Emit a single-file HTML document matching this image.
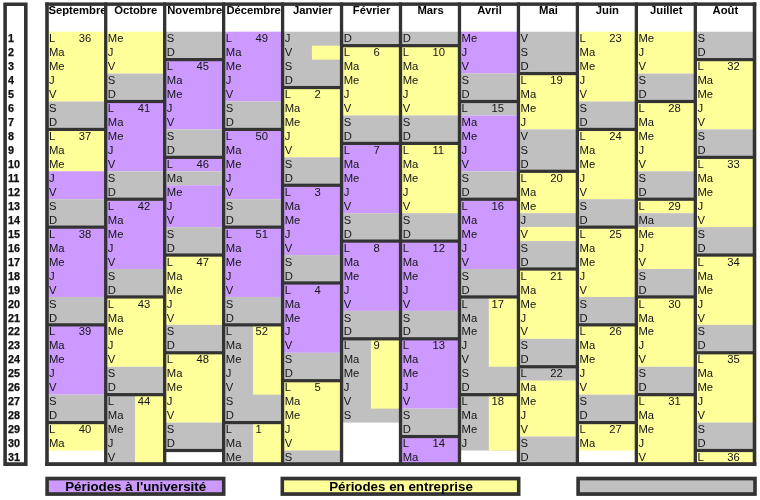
<!DOCTYPE html>
<html lang="fr"><head><meta charset="utf-8"><title>Calendrier</title>
<style>
html,body{margin:0;padding:0;background:#fff;}
body{width:760px;height:500px;overflow:hidden;}
svg{display:block}
text{font-family:"Liberation Sans",Arial,sans-serif;font-size:11.25px;fill:#141414;}
text.b{font-weight:bold;fill:#000}
text.n{font-weight:bold;font-size:10.8px;stroke:#000;stroke-width:.25px}
text.lg{font-weight:bold;font-size:13.33px;fill:#000}
</style></head><body>
<svg width="760" height="500" viewBox="0 0 760 500">
<rect width="760" height="500" fill="#fff"/>
<g shape-rendering="auto">
<rect x="47" y="31.7" width="58.96" height="69.8" fill="#FFFF99"/>
<rect x="47" y="101.5" width="58.96" height="27.92" fill="#C0C0C0"/>
<rect x="47" y="129.42" width="58.96" height="41.88" fill="#FFFF99"/>
<rect x="47" y="171.3" width="58.96" height="27.92" fill="#CC99FF"/>
<rect x="47" y="199.22" width="58.96" height="27.92" fill="#C0C0C0"/>
<rect x="47" y="227.14" width="58.96" height="69.8" fill="#CC99FF"/>
<rect x="47" y="296.94" width="58.96" height="27.92" fill="#C0C0C0"/>
<rect x="47" y="324.86" width="58.96" height="69.8" fill="#CC99FF"/>
<rect x="47" y="394.66" width="58.96" height="27.92" fill="#C0C0C0"/>
<rect x="47" y="422.58" width="58.96" height="27.92" fill="#FFFF99"/>
<rect x="105.96" y="31.7" width="58.96" height="41.88" fill="#FFFF99"/>
<rect x="105.96" y="73.58" width="58.96" height="27.92" fill="#C0C0C0"/>
<rect x="105.96" y="101.5" width="58.96" height="69.8" fill="#CC99FF"/>
<rect x="105.96" y="171.3" width="58.96" height="27.92" fill="#C0C0C0"/>
<rect x="105.96" y="199.22" width="58.96" height="69.8" fill="#CC99FF"/>
<rect x="105.96" y="269.02" width="58.96" height="27.92" fill="#C0C0C0"/>
<rect x="105.96" y="296.94" width="58.96" height="69.8" fill="#FFFF99"/>
<rect x="105.96" y="366.74" width="58.96" height="97.72" fill="#C0C0C0"/>
<rect x="135.04" y="394.66" width="29.88" height="69.8" fill="#FFFF99"/>
<rect x="164.92" y="31.7" width="58.96" height="27.92" fill="#C0C0C0"/>
<rect x="164.92" y="59.62" width="58.96" height="69.8" fill="#CC99FF"/>
<rect x="164.92" y="129.42" width="58.96" height="27.92" fill="#C0C0C0"/>
<rect x="164.92" y="157.34" width="58.96" height="13.96" fill="#CC99FF"/>
<rect x="164.92" y="171.3" width="58.96" height="13.96" fill="#C0C0C0"/>
<rect x="164.92" y="185.26" width="58.96" height="41.88" fill="#CC99FF"/>
<rect x="164.92" y="227.14" width="58.96" height="27.92" fill="#C0C0C0"/>
<rect x="164.92" y="255.06" width="58.96" height="69.8" fill="#FFFF99"/>
<rect x="164.92" y="324.86" width="58.96" height="27.92" fill="#C0C0C0"/>
<rect x="164.92" y="352.78" width="58.96" height="69.8" fill="#FFFF99"/>
<rect x="164.92" y="422.58" width="58.96" height="27.92" fill="#C0C0C0"/>
<rect x="223.88" y="31.7" width="58.96" height="69.8" fill="#CC99FF"/>
<rect x="223.88" y="101.5" width="58.96" height="27.92" fill="#C0C0C0"/>
<rect x="223.88" y="129.42" width="58.96" height="69.8" fill="#CC99FF"/>
<rect x="223.88" y="199.22" width="58.96" height="27.92" fill="#C0C0C0"/>
<rect x="223.88" y="227.14" width="58.96" height="69.8" fill="#CC99FF"/>
<rect x="223.88" y="296.94" width="58.96" height="167.52" fill="#C0C0C0"/>
<rect x="252.96" y="324.86" width="29.88" height="69.8" fill="#FFFF99"/>
<rect x="252.96" y="422.58" width="29.88" height="41.88" fill="#FFFF99"/>
<rect x="282.84" y="31.7" width="58.96" height="55.84" fill="#C0C0C0"/>
<rect x="282.84" y="87.54" width="58.96" height="69.8" fill="#FFFF99"/>
<rect x="282.84" y="157.34" width="58.96" height="27.92" fill="#C0C0C0"/>
<rect x="282.84" y="185.26" width="58.96" height="69.8" fill="#CC99FF"/>
<rect x="282.84" y="255.06" width="58.96" height="27.92" fill="#C0C0C0"/>
<rect x="282.84" y="282.98" width="58.96" height="69.8" fill="#CC99FF"/>
<rect x="282.84" y="352.78" width="58.96" height="27.92" fill="#C0C0C0"/>
<rect x="282.84" y="380.7" width="58.96" height="69.8" fill="#FFFF99"/>
<rect x="282.84" y="450.5" width="58.96" height="13.96" fill="#C0C0C0"/>
<rect x="311.92" y="45.66" width="29.88" height="13.96" fill="#FFFF99"/>
<rect x="341.8" y="31.7" width="58.96" height="13.96" fill="#C0C0C0"/>
<rect x="341.8" y="45.66" width="58.96" height="69.8" fill="#FFFF99"/>
<rect x="341.8" y="115.46" width="58.96" height="27.92" fill="#C0C0C0"/>
<rect x="341.8" y="143.38" width="58.96" height="69.8" fill="#CC99FF"/>
<rect x="341.8" y="213.18" width="58.96" height="27.92" fill="#C0C0C0"/>
<rect x="341.8" y="241.1" width="58.96" height="69.8" fill="#CC99FF"/>
<rect x="341.8" y="310.9" width="58.96" height="111.68" fill="#C0C0C0"/>
<rect x="370.88" y="338.82" width="29.88" height="69.8" fill="#FFFF99"/>
<rect x="400.76" y="31.7" width="58.96" height="13.96" fill="#C0C0C0"/>
<rect x="400.76" y="45.66" width="58.96" height="69.8" fill="#FFFF99"/>
<rect x="400.76" y="115.46" width="58.96" height="27.92" fill="#C0C0C0"/>
<rect x="400.76" y="143.38" width="58.96" height="69.8" fill="#FFFF99"/>
<rect x="400.76" y="213.18" width="58.96" height="27.92" fill="#C0C0C0"/>
<rect x="400.76" y="241.1" width="58.96" height="69.8" fill="#CC99FF"/>
<rect x="400.76" y="310.9" width="58.96" height="27.92" fill="#C0C0C0"/>
<rect x="400.76" y="338.82" width="58.96" height="69.8" fill="#CC99FF"/>
<rect x="400.76" y="408.62" width="58.96" height="27.92" fill="#C0C0C0"/>
<rect x="400.76" y="436.54" width="58.96" height="27.92" fill="#CC99FF"/>
<rect x="459.72" y="31.7" width="58.96" height="41.88" fill="#CC99FF"/>
<rect x="459.72" y="73.58" width="58.96" height="41.88" fill="#C0C0C0"/>
<rect x="459.72" y="115.46" width="58.96" height="55.84" fill="#CC99FF"/>
<rect x="459.72" y="171.3" width="58.96" height="27.92" fill="#C0C0C0"/>
<rect x="459.72" y="199.22" width="58.96" height="69.8" fill="#CC99FF"/>
<rect x="459.72" y="269.02" width="58.96" height="181.48" fill="#C0C0C0"/>
<rect x="488.8" y="296.94" width="29.88" height="69.8" fill="#FFFF99"/>
<rect x="488.8" y="394.66" width="29.88" height="55.84" fill="#FFFF99"/>
<rect x="518.68" y="31.7" width="58.96" height="41.88" fill="#C0C0C0"/>
<rect x="518.68" y="73.58" width="58.96" height="55.84" fill="#FFFF99"/>
<rect x="518.68" y="129.42" width="58.96" height="41.88" fill="#C0C0C0"/>
<rect x="518.68" y="171.3" width="58.96" height="41.88" fill="#FFFF99"/>
<rect x="518.68" y="213.18" width="58.96" height="13.96" fill="#C0C0C0"/>
<rect x="518.68" y="227.14" width="58.96" height="13.96" fill="#FFFF99"/>
<rect x="518.68" y="241.1" width="58.96" height="27.92" fill="#C0C0C0"/>
<rect x="518.68" y="269.02" width="58.96" height="69.8" fill="#FFFF99"/>
<rect x="518.68" y="338.82" width="58.96" height="41.88" fill="#C0C0C0"/>
<rect x="518.68" y="380.7" width="58.96" height="55.84" fill="#FFFF99"/>
<rect x="518.68" y="436.54" width="58.96" height="27.92" fill="#C0C0C0"/>
<rect x="577.64" y="31.7" width="58.96" height="69.8" fill="#FFFF99"/>
<rect x="577.64" y="101.5" width="58.96" height="27.92" fill="#C0C0C0"/>
<rect x="577.64" y="129.42" width="58.96" height="69.8" fill="#FFFF99"/>
<rect x="577.64" y="199.22" width="58.96" height="27.92" fill="#C0C0C0"/>
<rect x="577.64" y="227.14" width="58.96" height="69.8" fill="#FFFF99"/>
<rect x="577.64" y="296.94" width="58.96" height="27.92" fill="#C0C0C0"/>
<rect x="577.64" y="324.86" width="58.96" height="69.8" fill="#FFFF99"/>
<rect x="577.64" y="394.66" width="58.96" height="27.92" fill="#C0C0C0"/>
<rect x="577.64" y="422.58" width="58.96" height="27.92" fill="#FFFF99"/>
<rect x="636.6" y="31.7" width="58.96" height="41.88" fill="#FFFF99"/>
<rect x="636.6" y="73.58" width="58.96" height="27.92" fill="#C0C0C0"/>
<rect x="636.6" y="101.5" width="58.96" height="69.8" fill="#FFFF99"/>
<rect x="636.6" y="171.3" width="58.96" height="27.92" fill="#C0C0C0"/>
<rect x="636.6" y="199.22" width="58.96" height="13.96" fill="#FFFF99"/>
<rect x="636.6" y="213.18" width="58.96" height="13.96" fill="#C0C0C0"/>
<rect x="636.6" y="227.14" width="58.96" height="41.88" fill="#FFFF99"/>
<rect x="636.6" y="269.02" width="58.96" height="27.92" fill="#C0C0C0"/>
<rect x="636.6" y="296.94" width="58.96" height="69.8" fill="#FFFF99"/>
<rect x="636.6" y="366.74" width="58.96" height="27.92" fill="#C0C0C0"/>
<rect x="636.6" y="394.66" width="58.96" height="69.8" fill="#FFFF99"/>
<rect x="695.56" y="31.7" width="58.96" height="27.92" fill="#C0C0C0"/>
<rect x="695.56" y="59.62" width="58.96" height="69.8" fill="#FFFF99"/>
<rect x="695.56" y="129.42" width="58.96" height="27.92" fill="#C0C0C0"/>
<rect x="695.56" y="157.34" width="58.96" height="69.8" fill="#FFFF99"/>
<rect x="695.56" y="227.14" width="58.96" height="27.92" fill="#C0C0C0"/>
<rect x="695.56" y="255.06" width="58.96" height="69.8" fill="#FFFF99"/>
<rect x="695.56" y="324.86" width="58.96" height="27.92" fill="#C0C0C0"/>
<rect x="695.56" y="352.78" width="58.96" height="69.8" fill="#FFFF99"/>
<rect x="695.56" y="422.58" width="58.96" height="27.92" fill="#C0C0C0"/>
<rect x="695.56" y="450.5" width="58.96" height="13.96" fill="#FFFF99"/>
<rect x="47" y="127.82" width="58.96" height="3.2" fill="#333333"/>
<rect x="47" y="225.54" width="58.96" height="3.2" fill="#333333"/>
<rect x="47" y="323.26" width="58.96" height="3.2" fill="#333333"/>
<rect x="47" y="420.98" width="58.96" height="3.2" fill="#333333"/>
<rect x="105.96" y="99.9" width="58.96" height="3.2" fill="#333333"/>
<rect x="105.96" y="197.62" width="58.96" height="3.2" fill="#333333"/>
<rect x="105.96" y="295.34" width="58.96" height="3.2" fill="#333333"/>
<rect x="105.96" y="393.06" width="58.96" height="3.2" fill="#333333"/>
<rect x="164.92" y="58.02" width="58.96" height="3.2" fill="#333333"/>
<rect x="164.92" y="155.74" width="58.96" height="3.2" fill="#333333"/>
<rect x="164.92" y="253.46" width="58.96" height="3.2" fill="#333333"/>
<rect x="164.92" y="351.18" width="58.96" height="3.2" fill="#333333"/>
<rect x="164.92" y="448.9" width="58.96" height="3.2" fill="#333333"/>
<rect x="223.88" y="127.82" width="58.96" height="3.2" fill="#333333"/>
<rect x="223.88" y="225.54" width="58.96" height="3.2" fill="#333333"/>
<rect x="223.88" y="323.26" width="58.96" height="3.2" fill="#333333"/>
<rect x="223.88" y="420.98" width="58.96" height="3.2" fill="#333333"/>
<rect x="282.84" y="85.94" width="58.96" height="3.2" fill="#333333"/>
<rect x="282.84" y="183.66" width="58.96" height="3.2" fill="#333333"/>
<rect x="282.84" y="281.38" width="58.96" height="3.2" fill="#333333"/>
<rect x="282.84" y="379.1" width="58.96" height="3.2" fill="#333333"/>
<rect x="341.8" y="44.06" width="58.96" height="3.2" fill="#333333"/>
<rect x="341.8" y="141.78" width="58.96" height="3.2" fill="#333333"/>
<rect x="341.8" y="239.5" width="58.96" height="3.2" fill="#333333"/>
<rect x="341.8" y="337.22" width="58.96" height="3.2" fill="#333333"/>
<rect x="400.76" y="44.06" width="58.96" height="3.2" fill="#333333"/>
<rect x="400.76" y="141.78" width="58.96" height="3.2" fill="#333333"/>
<rect x="400.76" y="239.5" width="58.96" height="3.2" fill="#333333"/>
<rect x="400.76" y="337.22" width="58.96" height="3.2" fill="#333333"/>
<rect x="400.76" y="434.94" width="58.96" height="3.2" fill="#333333"/>
<rect x="459.72" y="99.9" width="58.96" height="3.2" fill="#333333"/>
<rect x="459.72" y="197.62" width="58.96" height="3.2" fill="#333333"/>
<rect x="459.72" y="295.34" width="58.96" height="3.2" fill="#333333"/>
<rect x="459.72" y="393.06" width="58.96" height="3.2" fill="#333333"/>
<rect x="518.68" y="71.98" width="58.96" height="3.2" fill="#333333"/>
<rect x="518.68" y="169.7" width="58.96" height="3.2" fill="#333333"/>
<rect x="518.68" y="267.42" width="58.96" height="3.2" fill="#333333"/>
<rect x="518.68" y="365.14" width="58.96" height="3.2" fill="#333333"/>
<rect x="577.64" y="127.82" width="58.96" height="3.2" fill="#333333"/>
<rect x="577.64" y="225.54" width="58.96" height="3.2" fill="#333333"/>
<rect x="577.64" y="323.26" width="58.96" height="3.2" fill="#333333"/>
<rect x="577.64" y="420.98" width="58.96" height="3.2" fill="#333333"/>
<rect x="636.6" y="99.9" width="58.96" height="3.2" fill="#333333"/>
<rect x="636.6" y="197.62" width="58.96" height="3.2" fill="#333333"/>
<rect x="636.6" y="295.34" width="58.96" height="3.2" fill="#333333"/>
<rect x="636.6" y="393.06" width="58.96" height="3.2" fill="#333333"/>
<rect x="695.56" y="58.02" width="58.96" height="3.2" fill="#333333"/>
<rect x="695.56" y="155.74" width="58.96" height="3.2" fill="#333333"/>
<rect x="695.56" y="253.46" width="58.96" height="3.2" fill="#333333"/>
<rect x="695.56" y="351.18" width="58.96" height="3.2" fill="#333333"/>
<rect x="695.56" y="448.9" width="58.96" height="3.2" fill="#333333"/>
<g class="t">
<text x="77.48" y="14.3" class="b" text-anchor="middle">Septembre</text>
<text x="135.74" y="14.3" class="b" text-anchor="middle">Octobre</text>
<text x="194.7" y="14.3" class="b" text-anchor="middle">Novembre</text>
<text x="253.66" y="14.3" class="b" text-anchor="middle">Décembre</text>
<text x="312.62" y="14.3" class="b" text-anchor="middle">Janvier</text>
<text x="371.58" y="14.3" class="b" text-anchor="middle">Février</text>
<text x="430.54" y="14.3" class="b" text-anchor="middle">Mars</text>
<text x="489.5" y="14.3" class="b" text-anchor="middle">Avril</text>
<text x="548.46" y="14.3" class="b" text-anchor="middle">Mai</text>
<text x="607.42" y="14.3" class="b" text-anchor="middle">Juin</text>
<text x="666.38" y="14.3" class="b" text-anchor="middle">Juillet</text>
<text x="725.34" y="14.3" class="b" text-anchor="middle">Août</text>
</g>
<rect x="45.2" y="2.4" width="3.6" height="463.6" fill="#333333"/>
<rect x="104.06" y="2.4" width="3.3" height="463.6" fill="#333333"/>
<rect x="163.02" y="2.4" width="3.3" height="463.6" fill="#333333"/>
<rect x="221.98" y="2.4" width="3.3" height="463.6" fill="#333333"/>
<rect x="280.94" y="2.4" width="3.3" height="463.6" fill="#333333"/>
<rect x="339.9" y="2.4" width="3.3" height="463.6" fill="#333333"/>
<rect x="398.86" y="2.4" width="3.3" height="463.6" fill="#333333"/>
<rect x="457.82" y="2.4" width="3.3" height="463.6" fill="#333333"/>
<rect x="516.78" y="2.4" width="3.3" height="463.6" fill="#333333"/>
<rect x="575.74" y="2.4" width="3.3" height="463.6" fill="#333333"/>
<rect x="634.7" y="2.4" width="3.3" height="463.6" fill="#333333"/>
<rect x="693.66" y="2.4" width="3.3" height="463.6" fill="#333333"/>
<rect x="752.72" y="2.4" width="3.6" height="463.6" fill="#333333"/>
<rect x="45.2" y="2.4" width="711.12" height="3.5" fill="#333333"/>
<rect x="45.2" y="462.2" width="711.12" height="3.8" fill="#333333"/>
<path d="M3.3 2.4H27.6V466H3.3Z M6.9 5.9V462.2H24V5.9Z" fill="#333333" fill-rule="evenodd"/>
<rect x="45.3" y="476.7" width="180.2" height="19.2" fill="#333333"/>
<rect x="48.9" y="480.4" width="173" height="11.8" fill="#CC99FF"/>
<rect x="280.5" y="476.7" width="240" height="19.2" fill="#333333"/>
<rect x="284.1" y="480.4" width="232.8" height="11.8" fill="#FFFF99"/>
<rect x="576.3" y="476.7" width="180.5" height="19.2" fill="#333333"/>
<rect x="579.9" y="480.4" width="173.3" height="11.8" fill="#C0C0C0"/>
</g>
<g class="t">
<text x="48.9" y="42.3">L</text>
<text x="78.68" y="42.3">36</text>
<text x="48.9" y="56.26">Ma</text>
<text x="48.9" y="70.22">Me</text>
<text x="48.9" y="84.18">J</text>
<text x="48.9" y="98.14">V</text>
<text x="48.9" y="112.1">S</text>
<text x="48.9" y="126.06">D</text>
<text x="48.9" y="140.02">L</text>
<text x="78.68" y="140.02">37</text>
<text x="48.9" y="153.98">Ma</text>
<text x="48.9" y="167.94">Me</text>
<text x="48.9" y="181.9">J</text>
<text x="48.9" y="195.86">V</text>
<text x="48.9" y="209.82">S</text>
<text x="48.9" y="223.78">D</text>
<text x="48.9" y="237.74">L</text>
<text x="78.68" y="237.74">38</text>
<text x="48.9" y="251.7">Ma</text>
<text x="48.9" y="265.66">Me</text>
<text x="48.9" y="279.62">J</text>
<text x="48.9" y="293.58">V</text>
<text x="48.9" y="307.54">S</text>
<text x="48.9" y="321.5">D</text>
<text x="48.9" y="335.46">L</text>
<text x="78.68" y="335.46">39</text>
<text x="48.9" y="349.42">Ma</text>
<text x="48.9" y="363.38">Me</text>
<text x="48.9" y="377.34">J</text>
<text x="48.9" y="391.3">V</text>
<text x="48.9" y="405.26">S</text>
<text x="48.9" y="419.22">D</text>
<text x="48.9" y="433.18">L</text>
<text x="78.68" y="433.18">40</text>
<text x="48.9" y="447.14">Ma</text>
<text x="107.86" y="42.3">Me</text>
<text x="107.86" y="56.26">J</text>
<text x="107.86" y="70.22">V</text>
<text x="107.86" y="84.18">S</text>
<text x="107.86" y="98.14">D</text>
<text x="107.86" y="112.1">L</text>
<text x="137.64" y="112.1">41</text>
<text x="107.86" y="126.06">Ma</text>
<text x="107.86" y="140.02">Me</text>
<text x="107.86" y="153.98">J</text>
<text x="107.86" y="167.94">V</text>
<text x="107.86" y="181.9">S</text>
<text x="107.86" y="195.86">D</text>
<text x="107.86" y="209.82">L</text>
<text x="137.64" y="209.82">42</text>
<text x="107.86" y="223.78">Ma</text>
<text x="107.86" y="237.74">Me</text>
<text x="107.86" y="251.7">J</text>
<text x="107.86" y="265.66">V</text>
<text x="107.86" y="279.62">S</text>
<text x="107.86" y="293.58">D</text>
<text x="107.86" y="307.54">L</text>
<text x="137.64" y="307.54">43</text>
<text x="107.86" y="321.5">Ma</text>
<text x="107.86" y="335.46">Me</text>
<text x="107.86" y="349.42">J</text>
<text x="107.86" y="363.38">V</text>
<text x="107.86" y="377.34">S</text>
<text x="107.86" y="391.3">D</text>
<text x="107.86" y="405.26">L</text>
<text x="137.64" y="405.26">44</text>
<text x="107.86" y="419.22">Ma</text>
<text x="107.86" y="433.18">Me</text>
<text x="107.86" y="447.14">J</text>
<text x="107.86" y="461.1">V</text>
<text x="166.82" y="42.3">S</text>
<text x="166.82" y="56.26">D</text>
<text x="166.82" y="70.22">L</text>
<text x="196.6" y="70.22">45</text>
<text x="166.82" y="84.18">Ma</text>
<text x="166.82" y="98.14">Me</text>
<text x="166.82" y="112.1">J</text>
<text x="166.82" y="126.06">V</text>
<text x="166.82" y="140.02">S</text>
<text x="166.82" y="153.98">D</text>
<text x="166.82" y="167.94">L</text>
<text x="196.6" y="167.94">46</text>
<text x="166.82" y="181.9">Ma</text>
<text x="166.82" y="195.86">Me</text>
<text x="166.82" y="209.82">J</text>
<text x="166.82" y="223.78">V</text>
<text x="166.82" y="237.74">S</text>
<text x="166.82" y="251.7">D</text>
<text x="166.82" y="265.66">L</text>
<text x="196.6" y="265.66">47</text>
<text x="166.82" y="279.62">Ma</text>
<text x="166.82" y="293.58">Me</text>
<text x="166.82" y="307.54">J</text>
<text x="166.82" y="321.5">V</text>
<text x="166.82" y="335.46">S</text>
<text x="166.82" y="349.42">D</text>
<text x="166.82" y="363.38">L</text>
<text x="196.6" y="363.38">48</text>
<text x="166.82" y="377.34">Ma</text>
<text x="166.82" y="391.3">Me</text>
<text x="166.82" y="405.26">J</text>
<text x="166.82" y="419.22">V</text>
<text x="166.82" y="433.18">S</text>
<text x="166.82" y="447.14">D</text>
<text x="225.78" y="42.3">L</text>
<text x="255.56" y="42.3">49</text>
<text x="225.78" y="56.26">Ma</text>
<text x="225.78" y="70.22">Me</text>
<text x="225.78" y="84.18">J</text>
<text x="225.78" y="98.14">V</text>
<text x="225.78" y="112.1">S</text>
<text x="225.78" y="126.06">D</text>
<text x="225.78" y="140.02">L</text>
<text x="255.56" y="140.02">50</text>
<text x="225.78" y="153.98">Ma</text>
<text x="225.78" y="167.94">Me</text>
<text x="225.78" y="181.9">J</text>
<text x="225.78" y="195.86">V</text>
<text x="225.78" y="209.82">S</text>
<text x="225.78" y="223.78">D</text>
<text x="225.78" y="237.74">L</text>
<text x="255.56" y="237.74">51</text>
<text x="225.78" y="251.7">Ma</text>
<text x="225.78" y="265.66">Me</text>
<text x="225.78" y="279.62">J</text>
<text x="225.78" y="293.58">V</text>
<text x="225.78" y="307.54">S</text>
<text x="225.78" y="321.5">D</text>
<text x="225.78" y="335.46">L</text>
<text x="255.56" y="335.46">52</text>
<text x="225.78" y="349.42">Ma</text>
<text x="225.78" y="363.38">Me</text>
<text x="225.78" y="377.34">J</text>
<text x="225.78" y="391.3">V</text>
<text x="225.78" y="405.26">S</text>
<text x="225.78" y="419.22">D</text>
<text x="225.78" y="433.18">L</text>
<text x="255.56" y="433.18">1</text>
<text x="225.78" y="447.14">Ma</text>
<text x="225.78" y="461.1">Me</text>
<text x="284.74" y="42.3">J</text>
<text x="284.74" y="56.26">V</text>
<text x="284.74" y="70.22">S</text>
<text x="284.74" y="84.18">D</text>
<text x="284.74" y="98.14">L</text>
<text x="314.52" y="98.14">2</text>
<text x="284.74" y="112.1">Ma</text>
<text x="284.74" y="126.06">Me</text>
<text x="284.74" y="140.02">J</text>
<text x="284.74" y="153.98">V</text>
<text x="284.74" y="167.94">S</text>
<text x="284.74" y="181.9">D</text>
<text x="284.74" y="195.86">L</text>
<text x="314.52" y="195.86">3</text>
<text x="284.74" y="209.82">Ma</text>
<text x="284.74" y="223.78">Me</text>
<text x="284.74" y="237.74">J</text>
<text x="284.74" y="251.7">V</text>
<text x="284.74" y="265.66">S</text>
<text x="284.74" y="279.62">D</text>
<text x="284.74" y="293.58">L</text>
<text x="314.52" y="293.58">4</text>
<text x="284.74" y="307.54">Ma</text>
<text x="284.74" y="321.5">Me</text>
<text x="284.74" y="335.46">J</text>
<text x="284.74" y="349.42">V</text>
<text x="284.74" y="363.38">S</text>
<text x="284.74" y="377.34">D</text>
<text x="284.74" y="391.3">L</text>
<text x="314.52" y="391.3">5</text>
<text x="284.74" y="405.26">Ma</text>
<text x="284.74" y="419.22">Me</text>
<text x="284.74" y="433.18">J</text>
<text x="284.74" y="447.14">V</text>
<text x="284.74" y="461.1">S</text>
<text x="343.7" y="42.3">D</text>
<text x="343.7" y="56.26">L</text>
<text x="373.48" y="56.26">6</text>
<text x="343.7" y="70.22">Ma</text>
<text x="343.7" y="84.18">Me</text>
<text x="343.7" y="98.14">J</text>
<text x="343.7" y="112.1">V</text>
<text x="343.7" y="126.06">S</text>
<text x="343.7" y="140.02">D</text>
<text x="343.7" y="153.98">L</text>
<text x="373.48" y="153.98">7</text>
<text x="343.7" y="167.94">Ma</text>
<text x="343.7" y="181.9">Me</text>
<text x="343.7" y="195.86">J</text>
<text x="343.7" y="209.82">V</text>
<text x="343.7" y="223.78">S</text>
<text x="343.7" y="237.74">D</text>
<text x="343.7" y="251.7">L</text>
<text x="373.48" y="251.7">8</text>
<text x="343.7" y="265.66">Ma</text>
<text x="343.7" y="279.62">Me</text>
<text x="343.7" y="293.58">J</text>
<text x="343.7" y="307.54">V</text>
<text x="343.7" y="321.5">S</text>
<text x="343.7" y="335.46">D</text>
<text x="343.7" y="349.42">L</text>
<text x="373.48" y="349.42">9</text>
<text x="343.7" y="363.38">Ma</text>
<text x="343.7" y="377.34">Me</text>
<text x="343.7" y="391.3">J</text>
<text x="343.7" y="405.26">V</text>
<text x="343.7" y="419.22">S</text>
<text x="402.66" y="42.3">D</text>
<text x="402.66" y="56.26">L</text>
<text x="432.44" y="56.26">10</text>
<text x="402.66" y="70.22">Ma</text>
<text x="402.66" y="84.18">Me</text>
<text x="402.66" y="98.14">J</text>
<text x="402.66" y="112.1">V</text>
<text x="402.66" y="126.06">S</text>
<text x="402.66" y="140.02">D</text>
<text x="402.66" y="153.98">L</text>
<text x="432.44" y="153.98">11</text>
<text x="402.66" y="167.94">Ma</text>
<text x="402.66" y="181.9">Me</text>
<text x="402.66" y="195.86">J</text>
<text x="402.66" y="209.82">V</text>
<text x="402.66" y="223.78">S</text>
<text x="402.66" y="237.74">D</text>
<text x="402.66" y="251.7">L</text>
<text x="432.44" y="251.7">12</text>
<text x="402.66" y="265.66">Ma</text>
<text x="402.66" y="279.62">Me</text>
<text x="402.66" y="293.58">J</text>
<text x="402.66" y="307.54">V</text>
<text x="402.66" y="321.5">S</text>
<text x="402.66" y="335.46">D</text>
<text x="402.66" y="349.42">L</text>
<text x="432.44" y="349.42">13</text>
<text x="402.66" y="363.38">Ma</text>
<text x="402.66" y="377.34">Me</text>
<text x="402.66" y="391.3">J</text>
<text x="402.66" y="405.26">V</text>
<text x="402.66" y="419.22">S</text>
<text x="402.66" y="433.18">D</text>
<text x="402.66" y="447.14">L</text>
<text x="432.44" y="447.14">14</text>
<text x="402.66" y="461.1">Ma</text>
<text x="461.62" y="42.3">Me</text>
<text x="461.62" y="56.26">J</text>
<text x="461.62" y="70.22">V</text>
<text x="461.62" y="84.18">S</text>
<text x="461.62" y="98.14">D</text>
<text x="461.62" y="112.1">L</text>
<text x="491.4" y="112.1">15</text>
<text x="461.62" y="126.06">Ma</text>
<text x="461.62" y="140.02">Me</text>
<text x="461.62" y="153.98">J</text>
<text x="461.62" y="167.94">V</text>
<text x="461.62" y="181.9">S</text>
<text x="461.62" y="195.86">D</text>
<text x="461.62" y="209.82">L</text>
<text x="491.4" y="209.82">16</text>
<text x="461.62" y="223.78">Ma</text>
<text x="461.62" y="237.74">Me</text>
<text x="461.62" y="251.7">J</text>
<text x="461.62" y="265.66">V</text>
<text x="461.62" y="279.62">S</text>
<text x="461.62" y="293.58">D</text>
<text x="461.62" y="307.54">L</text>
<text x="491.4" y="307.54">17</text>
<text x="461.62" y="321.5">Ma</text>
<text x="461.62" y="335.46">Me</text>
<text x="461.62" y="349.42">J</text>
<text x="461.62" y="363.38">V</text>
<text x="461.62" y="377.34">S</text>
<text x="461.62" y="391.3">D</text>
<text x="461.62" y="405.26">L</text>
<text x="491.4" y="405.26">18</text>
<text x="461.62" y="419.22">Ma</text>
<text x="461.62" y="433.18">Me</text>
<text x="461.62" y="447.14">J</text>
<text x="520.58" y="42.3">V</text>
<text x="520.58" y="56.26">S</text>
<text x="520.58" y="70.22">D</text>
<text x="520.58" y="84.18">L</text>
<text x="550.36" y="84.18">19</text>
<text x="520.58" y="98.14">Ma</text>
<text x="520.58" y="112.1">Me</text>
<text x="520.58" y="126.06">J</text>
<text x="520.58" y="140.02">V</text>
<text x="520.58" y="153.98">S</text>
<text x="520.58" y="167.94">D</text>
<text x="520.58" y="181.9">L</text>
<text x="550.36" y="181.9">20</text>
<text x="520.58" y="195.86">Ma</text>
<text x="520.58" y="209.82">Me</text>
<text x="520.58" y="223.78">J</text>
<text x="520.58" y="237.74">V</text>
<text x="520.58" y="251.7">S</text>
<text x="520.58" y="265.66">D</text>
<text x="520.58" y="279.62">L</text>
<text x="550.36" y="279.62">21</text>
<text x="520.58" y="293.58">Ma</text>
<text x="520.58" y="307.54">Me</text>
<text x="520.58" y="321.5">J</text>
<text x="520.58" y="335.46">V</text>
<text x="520.58" y="349.42">S</text>
<text x="520.58" y="363.38">D</text>
<text x="520.58" y="377.34">L</text>
<text x="550.36" y="377.34">22</text>
<text x="520.58" y="391.3">Ma</text>
<text x="520.58" y="405.26">Me</text>
<text x="520.58" y="419.22">J</text>
<text x="520.58" y="433.18">V</text>
<text x="520.58" y="447.14">S</text>
<text x="520.58" y="461.1">D</text>
<text x="579.54" y="42.3">L</text>
<text x="609.32" y="42.3">23</text>
<text x="579.54" y="56.26">Ma</text>
<text x="579.54" y="70.22">Me</text>
<text x="579.54" y="84.18">J</text>
<text x="579.54" y="98.14">V</text>
<text x="579.54" y="112.1">S</text>
<text x="579.54" y="126.06">D</text>
<text x="579.54" y="140.02">L</text>
<text x="609.32" y="140.02">24</text>
<text x="579.54" y="153.98">Ma</text>
<text x="579.54" y="167.94">Me</text>
<text x="579.54" y="181.9">J</text>
<text x="579.54" y="195.86">V</text>
<text x="579.54" y="209.82">S</text>
<text x="579.54" y="223.78">D</text>
<text x="579.54" y="237.74">L</text>
<text x="609.32" y="237.74">25</text>
<text x="579.54" y="251.7">Ma</text>
<text x="579.54" y="265.66">Me</text>
<text x="579.54" y="279.62">J</text>
<text x="579.54" y="293.58">V</text>
<text x="579.54" y="307.54">S</text>
<text x="579.54" y="321.5">D</text>
<text x="579.54" y="335.46">L</text>
<text x="609.32" y="335.46">26</text>
<text x="579.54" y="349.42">Ma</text>
<text x="579.54" y="363.38">Me</text>
<text x="579.54" y="377.34">J</text>
<text x="579.54" y="391.3">V</text>
<text x="579.54" y="405.26">S</text>
<text x="579.54" y="419.22">D</text>
<text x="579.54" y="433.18">L</text>
<text x="609.32" y="433.18">27</text>
<text x="579.54" y="447.14">Ma</text>
<text x="638.5" y="42.3">Me</text>
<text x="638.5" y="56.26">J</text>
<text x="638.5" y="70.22">V</text>
<text x="638.5" y="84.18">S</text>
<text x="638.5" y="98.14">D</text>
<text x="638.5" y="112.1">L</text>
<text x="668.28" y="112.1">28</text>
<text x="638.5" y="126.06">Ma</text>
<text x="638.5" y="140.02">Me</text>
<text x="638.5" y="153.98">J</text>
<text x="638.5" y="167.94">V</text>
<text x="638.5" y="181.9">S</text>
<text x="638.5" y="195.86">D</text>
<text x="638.5" y="209.82">L</text>
<text x="668.28" y="209.82">29</text>
<text x="638.5" y="223.78">Ma</text>
<text x="638.5" y="237.74">Me</text>
<text x="638.5" y="251.7">J</text>
<text x="638.5" y="265.66">V</text>
<text x="638.5" y="279.62">S</text>
<text x="638.5" y="293.58">D</text>
<text x="638.5" y="307.54">L</text>
<text x="668.28" y="307.54">30</text>
<text x="638.5" y="321.5">Ma</text>
<text x="638.5" y="335.46">Me</text>
<text x="638.5" y="349.42">J</text>
<text x="638.5" y="363.38">V</text>
<text x="638.5" y="377.34">S</text>
<text x="638.5" y="391.3">D</text>
<text x="638.5" y="405.26">L</text>
<text x="668.28" y="405.26">31</text>
<text x="638.5" y="419.22">Ma</text>
<text x="638.5" y="433.18">Me</text>
<text x="638.5" y="447.14">J</text>
<text x="638.5" y="461.1">V</text>
<text x="697.46" y="42.3">S</text>
<text x="697.46" y="56.26">D</text>
<text x="697.46" y="70.22">L</text>
<text x="727.24" y="70.22">32</text>
<text x="697.46" y="84.18">Ma</text>
<text x="697.46" y="98.14">Me</text>
<text x="697.46" y="112.1">J</text>
<text x="697.46" y="126.06">V</text>
<text x="697.46" y="140.02">S</text>
<text x="697.46" y="153.98">D</text>
<text x="697.46" y="167.94">L</text>
<text x="727.24" y="167.94">33</text>
<text x="697.46" y="181.9">Ma</text>
<text x="697.46" y="195.86">Me</text>
<text x="697.46" y="209.82">J</text>
<text x="697.46" y="223.78">V</text>
<text x="697.46" y="237.74">S</text>
<text x="697.46" y="251.7">D</text>
<text x="697.46" y="265.66">L</text>
<text x="727.24" y="265.66">34</text>
<text x="697.46" y="279.62">Ma</text>
<text x="697.46" y="293.58">Me</text>
<text x="697.46" y="307.54">J</text>
<text x="697.46" y="321.5">V</text>
<text x="697.46" y="335.46">S</text>
<text x="697.46" y="349.42">D</text>
<text x="697.46" y="363.38">L</text>
<text x="727.24" y="363.38">35</text>
<text x="697.46" y="377.34">Ma</text>
<text x="697.46" y="391.3">Me</text>
<text x="697.46" y="405.26">J</text>
<text x="697.46" y="419.22">V</text>
<text x="697.46" y="433.18">S</text>
<text x="697.46" y="447.14">D</text>
<text x="697.46" y="461.1">L</text>
<text x="727.24" y="461.1">36</text>
<text x="7.9" y="42.3" class="n">1</text>
<text x="7.9" y="56.26" class="n">2</text>
<text x="7.9" y="70.22" class="n">3</text>
<text x="7.9" y="84.18" class="n">4</text>
<text x="7.9" y="98.14" class="n">5</text>
<text x="7.9" y="112.1" class="n">6</text>
<text x="7.9" y="126.06" class="n">7</text>
<text x="7.9" y="140.02" class="n">8</text>
<text x="7.9" y="153.98" class="n">9</text>
<text x="7.9" y="167.94" class="n">10</text>
<text x="7.9" y="181.9" class="n">11</text>
<text x="7.9" y="195.86" class="n">12</text>
<text x="7.9" y="209.82" class="n">13</text>
<text x="7.9" y="223.78" class="n">14</text>
<text x="7.9" y="237.74" class="n">15</text>
<text x="7.9" y="251.7" class="n">16</text>
<text x="7.9" y="265.66" class="n">17</text>
<text x="7.9" y="279.62" class="n">18</text>
<text x="7.9" y="293.58" class="n">19</text>
<text x="7.9" y="307.54" class="n">20</text>
<text x="7.9" y="321.5" class="n">21</text>
<text x="7.9" y="335.46" class="n">22</text>
<text x="7.9" y="349.42" class="n">23</text>
<text x="7.9" y="363.38" class="n">24</text>
<text x="7.9" y="377.34" class="n">25</text>
<text x="7.9" y="391.3" class="n">26</text>
<text x="7.9" y="405.26" class="n">27</text>
<text x="7.9" y="419.22" class="n">28</text>
<text x="7.9" y="433.18" class="n">29</text>
<text x="7.9" y="447.14" class="n">30</text>
<text x="7.9" y="461.1" class="n">31</text>
<text x="135.7" y="490.6" class="lg" text-anchor="middle">Périodes à l'université</text>
<text x="401" y="490.6" class="lg" text-anchor="middle">Périodes en entreprise</text>
</g></svg>
</body></html>
